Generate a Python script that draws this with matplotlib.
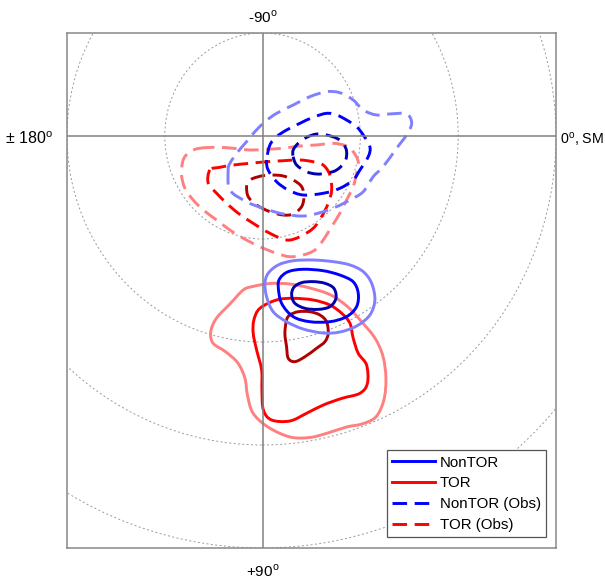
import numpy as np
import matplotlib
matplotlib.use('Agg')
import matplotlib.pyplot as plt
from matplotlib.patches import Circle, PathPatch
from matplotlib.path import Path
from matplotlib.lines import Line2D

plt.rcParams['font.family'] = ['Liberation Sans', 'DejaVu Sans']
plt.rcParams['mathtext.fontset'] = 'custom'
plt.rcParams['mathtext.rm'] = 'Liberation Sans'

# contour lines, map units (one dotted ring = 1), x right, y up (top = -90)
# --- observed (dashed) ---
nontor_obs_outer_x = [-0.352, -0.334, -0.164, 0.006, 0.211, 0.415, 0.586, 0.757, 0.893, 1.029,
                      1.131, 1.233, 1.370, 1.472, 1.524, 1.472, 1.302, 1.166, 1.029, 0.926,
                      0.790, 0.654, 0.484, 0.313, 0.143, 0.024, -0.079, -0.164, -0.266, -0.334]
nontor_obs_outer_y = [-0.330, -0.524, -0.638, -0.702, -0.757, -0.777, -0.745, -0.686, -0.621, -0.541,
                      -0.395, -0.298, -0.119, 0.010, 0.123, 0.214, 0.214, 0.204, 0.252, 0.350,
                      0.420, 0.430, 0.382, 0.301, 0.220, 0.139, 0.042, -0.055, -0.168, -0.265]
nontor_obs_mid_x = [0.041, 0.057, 0.143, 0.262, 0.415, 0.620, 0.790, 0.926, 0.995, 1.080, 1.097,
                    1.029, 0.961, 0.859, 0.757, 0.654, 0.517, 0.381, 0.245, 0.143, 0.075]
nontor_obs_mid_y = [-0.233, -0.330, -0.444, -0.524, -0.573, -0.556, -0.508, -0.427, -0.330, -0.201, -0.104,
                    0.010, 0.090, 0.155, 0.204, 0.220, 0.182, 0.123, 0.058, -0.007, -0.087]
nontor_obs_inner_x = [0.313, 0.348, 0.450, 0.552, 0.654, 0.757, 0.842, 0.859, 0.824, 0.757,
                      0.654, 0.552, 0.450, 0.364, 0.313]
nontor_obs_inner_y = [-0.201, -0.282, -0.347, -0.369, -0.362, -0.330, -0.250, -0.152, -0.071, -0.022,
                      0.010, 0.019, -0.013, -0.071, -0.136]

tor_obs_outer_x = [-0.641, -0.470, -0.301, -0.130, 0.041, 0.211, 0.381, 0.552, 0.722, 0.859, 0.926,
                   0.978, 0.961, 0.926, 0.859, 0.790, 0.706, 0.620, 0.535, 0.415, 0.279, 0.143,
                   -0.028, -0.198, -0.334, -0.470, -0.607, -0.710, -0.794, -0.828, -0.812, -0.743]
tor_obs_outer_y = [-0.119, -0.110, -0.119, -0.136, -0.129, -0.119, -0.097, -0.087, -0.071, -0.097, -0.152,
                   -0.249, -0.362, -0.492, -0.621, -0.750, -0.880, -1.010, -1.107, -1.155, -1.172, -1.139,
                   -1.075, -0.993, -0.913, -0.816, -0.718, -0.621, -0.508, -0.379, -0.233, -0.152]
tor_obs_mid_x = [-0.539, -0.556, -0.470, -0.368, -0.249, -0.096, 0.075, 0.245, 0.381, 0.517, 0.603,
                 0.671, 0.706, 0.688, 0.620, 0.517, 0.381, 0.211, 0.041, -0.130, -0.301, -0.437]
tor_obs_mid_y = [-0.330, -0.459, -0.556, -0.653, -0.750, -0.848, -0.945, -1.010, -0.978, -0.896, -0.783,
                 -0.653, -0.524, -0.379, -0.282, -0.250, -0.233, -0.240, -0.250, -0.265, -0.282, -0.304]
tor_obs_inner_x = [-0.164, -0.147, -0.061, 0.075, 0.211, 0.313, 0.399, 0.422, 0.399, 0.313,
                   0.211, 0.108, 0.006, -0.096, -0.147]
tor_obs_inner_y = [-0.492, -0.589, -0.670, -0.735, -0.767, -0.757, -0.686, -0.589, -0.492, -0.427,
                   -0.388, -0.379, -0.385, -0.411, -0.444]

# --- model (solid) ---
nontor_outer_x = [0.024, 0.041, 0.108, 0.245, 0.415, 0.620, 0.790, 0.961, 1.097, 1.148, 1.115,
                  1.029, 0.893, 0.722, 0.517, 0.313, 0.160, 0.057]
nontor_outer_y = [-1.430, -1.560, -1.706, -1.803, -1.874, -1.913, -1.903, -1.845, -1.738, -1.592, -1.430,
                  -1.317, -1.252, -1.220, -1.204, -1.211, -1.252, -1.333]
nontor_mid_x = [0.160, 0.194, 0.313, 0.484, 0.688, 0.859, 0.961, 0.978, 0.926, 0.790, 0.620,
                0.415, 0.262, 0.177]
nontor_mid_y = [-1.463, -1.624, -1.754, -1.803, -1.803, -1.754, -1.657, -1.527, -1.415, -1.350, -1.308,
                -1.294, -1.317, -1.382]
nontor_inner_x = [0.297, 0.330, 0.433, 0.569, 0.688, 0.750, 0.729, 0.637, 0.517, 0.399, 0.320]
nontor_inner_y = [-1.544, -1.624, -1.673, -1.683, -1.657, -1.576, -1.479, -1.430, -1.414, -1.424, -1.469]

tor_outer_x = [-0.198, -0.334, -0.470, -0.529, -0.508, -0.375, -0.253, -0.181, -0.155, -0.099, 0.054,
               0.279, 0.484, 0.668, 0.859, 1.015, 1.158, 1.240, 1.261, 1.230, 1.148, 1.015, 0.872,
               0.698, 0.484, 0.279, 0.075, -0.099]
tor_outer_y = [-1.495, -1.631, -1.767, -1.893, -2.010, -2.097, -2.204, -2.350, -2.515, -2.689, -2.825,
               -2.922, -2.927, -2.883, -2.825, -2.796, -2.728, -2.563, -2.350, -2.136, -1.961, -1.806, -1.660,
               -1.544, -1.476, -1.437, -1.432, -1.461]
tor_mid_x = [-0.028, -0.089, -0.096, -0.061, -0.010, -0.007, 0.008, 0.092, 0.279, 0.450, 0.620, 0.811,
             0.995, 1.072, 1.063, 0.978, 0.926, 0.893, 0.808, 0.688, 0.517, 0.313, 0.143]
tor_mid_y = [-1.673, -1.786, -1.916, -2.078, -2.272, -2.466, -2.660, -2.757, -2.767, -2.692, -2.612, -2.547,
             -2.498, -2.401, -2.223, -2.110, -1.961, -1.818, -1.721, -1.641, -1.592, -1.576, -1.592]
tor_inner_x = [0.245, 0.228, 0.245, 0.262, 0.330, 0.433, 0.552, 0.637, 0.671, 0.654, 0.586, 0.484, 0.364, 0.279]
tor_inner_y = [-1.786, -1.916, -2.046, -2.158, -2.191, -2.143, -2.061, -1.997, -1.916, -1.803, -1.738,
               -1.706, -1.706, -1.738]

ring_radii = [1, 2, 3, 4, 5]
blues = ['#8080ff', '#0000ff', '#0000b0']
reds = ['#ff8080', '#ff0000', '#b00000']
LW = 2.1
DASH = (0, (5, 2.6))


def smooth_path(x, y):
    # closed curve through the read points, drawn as cubic bezier pieces
    p = np.column_stack([x, y])
    n = len(p)
    verts = [p[0]]
    codes = [Path.MOVETO]
    for i in range(n):
        p0, p1, p2, p3 = p[i - 1], p[i], p[(i + 1) % n], p[(i + 2) % n]
        verts += [p1 + (p2 - p0) / 6, p2 - (p3 - p1) / 6, p2]
        codes += [Path.CURVE4] * 3
    return Path(verts, codes)


def draw_set(ax, xs, ys, colors, ls):
    for x, y, c in zip(xs, ys, colors):
        ax.add_patch(PathPatch(smooth_path(x, y), fill=False, ec=c, lw=LW, ls=ls,
                               joinstyle='round', capstyle='butt'))


fig = plt.figure(figsize=(6.05, 5.8), dpi=100)
ax = fig.add_axes([67 / 605, 32 / 580, 489 / 605, 515 / 580])
ax.set_xlim(-2, 3)
ax.set_ylim(-4, 1)
ax.set_xticks([])
ax.set_yticks([])
for s in ax.spines.values():
    s.set_color('#888888')
    s.set_linewidth(1.1)

for r in ring_radii:
    ax.add_patch(Circle((0, 0), r, fill=False, ec='#999999', lw=0.7, ls=(0, (2, 2.5))))
ax.axhline(0, color='#808080', lw=1.1)
ax.axvline(0, color='#808080', lw=1.1)

draw_set(ax, [tor_obs_outer_x, tor_obs_mid_x, tor_obs_inner_x],
         [tor_obs_outer_y, tor_obs_mid_y, tor_obs_inner_y], reds, DASH)
draw_set(ax, [nontor_obs_outer_x, nontor_obs_mid_x, nontor_obs_inner_x],
         [nontor_obs_outer_y, nontor_obs_mid_y, nontor_obs_inner_y], blues, DASH)
draw_set(ax, [tor_outer_x, tor_mid_x, tor_inner_x],
         [tor_outer_y, tor_mid_y, tor_inner_y], reds, '-')
draw_set(ax, [nontor_outer_x, nontor_mid_x, nontor_inner_x],
         [nontor_outer_y, nontor_mid_y, nontor_inner_y], blues, '-')

handles = [Line2D([], [], color='#0000ff', lw=LW, label='NonTOR'),
           Line2D([], [], color='#ff0000', lw=LW, label='TOR'),
           Line2D([], [], color='#0000ff', lw=LW, ls=DASH, label='NonTOR (Obs)'),
           Line2D([], [], color='#ff0000', lw=LW, ls=DASH, label='TOR (Obs)')]
leg = ax.legend(handles=handles, loc='lower right',
                bbox_to_anchor=(0.98, 0.021), borderaxespad=0, fontsize=10.8,
                fancybox=False, framealpha=1, edgecolor='#555555',
                handlelength=2.9, handletextpad=0.3, labelspacing=0.45, borderpad=0.35)
leg.get_frame().set_linewidth(0.9)

deg = r'$^{\rm o}$'
kw = dict(color='black', annotation_clip=False)
ax.annotate('-90' + deg, xy=(0, 1), xycoords=('data', 'axes fraction'), xytext=(0, 5),
            textcoords='offset points', ha='center', va='bottom', fontsize=11, **kw)
ax.annotate('+90' + deg, xy=(0, 0), xycoords=('data', 'axes fraction'), xytext=(0, -11),
            textcoords='offset points', ha='center', va='top', fontsize=11, **kw)
ax.annotate('\u00b1 180' + deg, xy=(0, 0), xycoords=('axes fraction', 'data'), xytext=(-10, -2),
            textcoords='offset points', ha='right', va='center', fontsize=11.5, **kw)
ax.annotate('0' + deg + ', SM', xy=(1, 0), xycoords=('axes fraction', 'data'), xytext=(3, -2),
            textcoords='offset points', ha='left', va='center', fontsize=10.3, **kw)

fig.savefig('out.png', dpi=100)
